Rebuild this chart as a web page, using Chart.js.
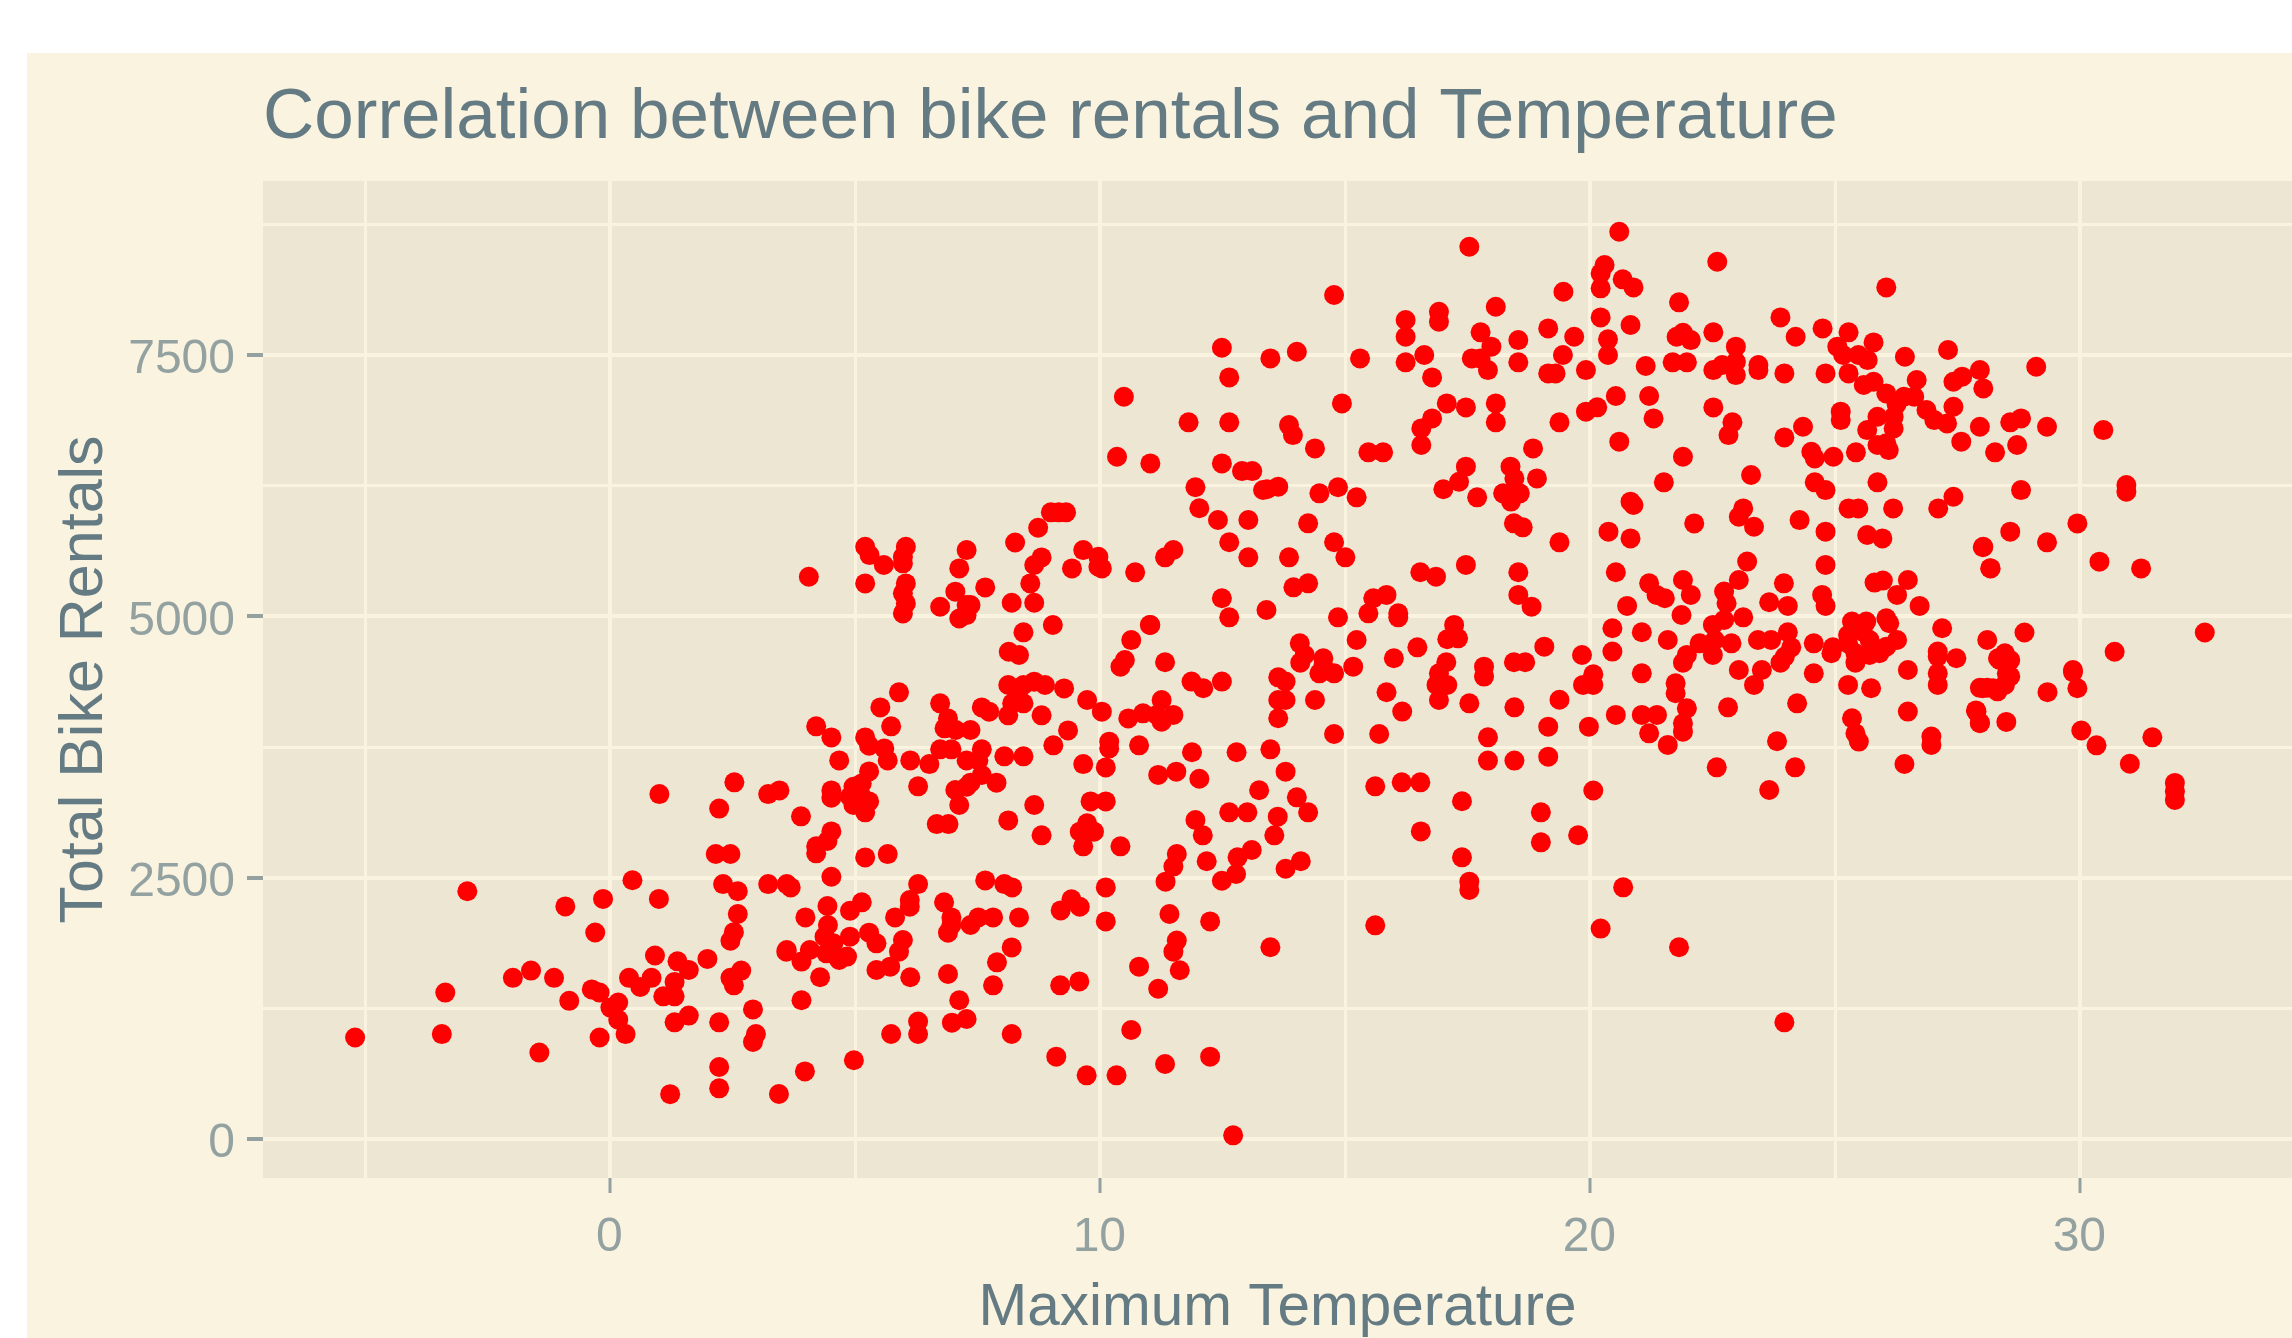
<!DOCTYPE html>
<html>
<head>
<meta charset="utf-8">
<title>Bike rentals</title>
<script src="https://cdn.jsdelivr.net/npm/chart.js@4"></script>
<style>
  html, body { margin: 0; background: #fff; overflow: hidden; }
  #wrap { position: absolute; left: 27px; top: 53px; width: 2265px; height: 1285px; background: #f9f3e0; }
</style>
</head>
<body>
<div id="wrap"><canvas id="chart" width="2265" height="1285"></canvas></div>
<script>
const maxTemp = [
  -2.92, 0.45, -0.92, -0.15, 0.99, -0.31, 2.15, 2.45, 2.22, 2.30,
  2.60, 2.60, 2.52, 2.45, 0.91, 1.37, 1.98, 1.60, 0.84, 0.38,
  0.61, 1.31, -1.99, -1.62, -1.15, -3.37, -0.84, -0.38, -0.22, 0.16,
  0.00, 0.16, 0.31, -0.22, -3.44, -5.21, -1.45, 1.08, 1.31, 1.31,
  1.60, 2.22, 2.91, 2.97, 2.91, 2.22, 2.22, 1.22, 3.44, 2.67,
  2.45, 2.52, 3.59, 3.90, 3.90, 1.00, 2.53, 3.22, 3.45, 5.89,
  5.51, 5.73, 4.20, 4.51, 5.20, 5.28, 5.59, 4.67, 5.66, 6.12,
  6.51, 5.28, 4.51, 4.51, 4.96, 5.13, 4.89, 5.13, 5.28, 4.96,
  5.20, 6.28, 3.89, 4.51, 4.20, 4.43, 4.20, 5.20, 5.66, 4.51,
  3.22, 3.60, 3.68, 6.73, 6.89, 6.82, 7.05, 7.35, 6.73, 6.96,
  7.58, 7.27, 7.51, 7.58, 7.35, 7.88, 7.04, 7.27, 7.12, 6.66,
  6.90, 8.04, 8.43, 8.12, 8.65, 8.80, 9.04, 9.34, 8.80, 8.12,
  7.73, 7.58, 8.12, 8.31, 8.43, 8.65, 8.87, 9.26, 8.20, 8.43,
  9.73, 10.03, 10.57, 10.87, 10.41, 10.50, 9.65, 10.11, 10.18, 10.18,
  10.79, 9.80, 10.11, 9.73, 9.58, 9.87, 9.65, 10.41, 7.65, 8.04,
  8.20, 10.11, 6.28, 6.11, 6.11, 5.13, 4.89, 4.43, 3.98, 5.81,
  6.81, 6.96, 6.96, 6.89, 7.35, 7.51, 7.81, 8.34, 9.41, 9.19,
  9.58, 10.11, 8.19, 4.44, 4.37, 4.89, 5.28, 5.43, 5.97, 3.60,
  4.07, 4.55, 4.28, 4.67, 4.83, 4.41, 5.43, 5.71, 5.89,
  6.12, 6.89, 7.89, 7.81, 9.18, 9.57, 11.18, 10.79, 11.62, 11.49,
  11.56, 11.41, 12.24, 13.47, 15.61, 7.12, 7.27, 6.97, 6.28, 6.28,
  5.73, 8.19, 10.63, 4.97, 9.10, 11.32, 12.24, 9.72, 10.33, 3.97,
  12.71, 15.61, 16.15, 16.53, 17.38, 16.54, 17.38, 17.53, 17.53, 18.99,
  18.99, 13.24, 14.01, 12.63, 13.00, 13.62, 14.24, 11.94, 12.09, 13.55,
  13.09, 12.80, 12.17, 11.56, 11.49, 11.33, 12.77, 12.48, 14.09, 13.78,
  4.05, 5.20, 5.29, 5.58, 5.97, 6.03, 5.97, 5.20, 6.03, 5.97,
  6.03, 5.97, 7.27, 7.12, 7.04, 7.65, 6.73, 7.27, 7.35, 7.12,
  7.27, 8.26, 8.73, 9.15, 9.30, 8.99, 8.80, 8.65, 8.57, 8.19,
  8.65, 9.03, 8.43, 8.13, 8.34, 9.65, 9.96, 9.96, 10.03, 9.42,
  10.71, 11.02, 10.63, 10.34, 11.02, 10.48, 11.80, 12.48, 12.63, 13.47,
  14.01, 14.77, 15.30, 16.23, 16.23, 16.23, 16.61, 16.77, 16.91, 16.91,
  17.53, 18.07, 17.76, 17.98, 18.53, 18.53, 17.58, 17.76, 17.91, 19.14,
  19.14, 14.93, 17.07, 17.46, 18.07, 18.07, 16.77, 16.55, 16.55, 12.63,
  13.85, 13.93, 14.38, 15.47, 15.77, 18.83, 12.48, 12.89, 13.10, 17.46,
  17.32, 18.37, 18.45, 18.91, 11.94, 13.40, 13.63, 13.32, 14.47, 14.85,
  15.23, 17.00, 17.69, 18.22, 18.56, 18.38, 12.02, 12.40, 13.02, 14.24,
  18.44, 18.62, 12.63, 14.77, 15.00, 13.02, 13.85, 11.49, 11.32, 16.53,
  16.85, 17.46, 18.53, 13.94, 14.24, 12.48, 12.63, 13.39, 14.85, 15.57,
  15.84, 15.47, 16.08, 16.08, 18.53, 18.80, 11.01, 17.22, 17.30, 17.08,
  15.23, 14.07, 14.17, 14.08, 19.06, 16.47, 11.32, 15.99, 14.55, 14.55,
  14.47, 14.77, 15.16, 17.06, 16.91, 17.83, 17.83, 18.44, 18.67, 11.86,
  12.10, 12.48, 13.63, 13.78, 13.63, 13.78, 11.25, 14.38, 15.84, 16.86,
  17.08, 16.91, 17.53, 16.16, 18.45, 19.14, 13.63, 11.25, 11.49, 11.15,
  14.77, 15.69, 17.91, 13.47, 12.78, 11.87, 17.91, 18.45, 19.14, 13.78,
  12.02, 11.18, 11.55, 20.59, 20.29, 20.21, 20.21, 20.66, 20.88, 19.45,
  22.59, 21.81, 20.21, 20.82, 19.67, 20.36, 19.44, 20.36, 19.29, 19.91,
  21.89, 21.76, 22.05, 22.51, 22.97, 23.88, 24.19, 24.74, 25.27, 25.04,
  25.78, 26.04, 21.13, 21.68, 21.97, 22.51, 22.69, 22.97, 22.97, 23.43,
  23.43, 23.96, 24.80, 25.27, 25.16, 25.47, 25.66, 26.42, 27.30, 29.10,
  27.95, 26.66, 27.41, 27.59, 28.02, 25.58, 25.78, 26.04, 26.40, 26.61,
  26.25, 20.52, 21.20, 20.14, 19.91, 22.51, 19.37, 21.29, 22.90, 22.82,
  24.34, 23.96, 25.11, 25.11, 25.86, 26.19, 25.65, 26.19, 26.86, 27.02,
  27.28, 27.41, 27.95, 28.57, 28.79, 29.32, 30.47, 20.59, 21.89, 24.51,
  24.58, 24.96, 25.42, 25.86, 26.09, 26.04, 27.57, 28.26, 28.71, 21.50,
  23.28, 24.58, 24.80, 25.86, 28.79, 30.94, 30.94, 20.82, 20.88, 23.12,
  25.27, 25.47, 26.18, 27.10, 27.41, 23.03, 23.34, 24.27, 22.12, 19.37,
  20.37, 20.82, 24.80, 25.65, 25.96, 28.57, 29.94, 29.32, 28.02, 30.39,
  31.24, 28.17, 19.83, 19.37, 19.97, 20.06, 19.85, 20.06, 20.06, 19.75,
  20.67, 20.21, 21.81, 23.96, 23.20, 24.80, 20.52, 21.20, 21.89, 23.03,
  23.95, 21.35, 21.52, 22.05, 22.73, 23.65, 24.03, 24.73, 24.80, 20.75,
  21.86, 22.78, 22.73, 23.12, 20.45, 21.05, 21.58, 22.50, 22.54, 22.23,
  22.88, 22.50, 21.97, 21.89, 20.45, 23.42, 23.69, 24.03, 24.10, 23.97,
  23.88, 24.56, 24.95, 24.92, 24.56, 21.05, 23.03, 23.50, 23.34, 21.74,
  21.74, 21.97, 21.89, 21.89, 22.81, 20.52, 21.05, 21.36, 21.20, 21.58,
  24.22, 23.81, 22.58, 24.18, 23.65, 25.34, 25.63, 26.04, 26.10, 25.26,
  25.56, 25.26, 25.70, 26.26, 26.04, 25.70, 25.41, 25.41, 25.90, 25.26,
  25.73, 26.48, 26.48, 25.34, 25.41, 25.48, 26.41, 26.96, 26.96, 27.18,
  27.09, 27.09, 27.47, 27.09, 27.09, 28.10, 28.32, 28.01, 28.22, 27.88,
  27.95, 28.01, 28.16, 25.80, 25.97, 26.48, 26.26, 26.72, 28.86, 28.46,
  28.57, 30.70, 32.54, 29.85, 28.50, 28.36, 29.94, 29.85, 29.33, 28.57,
  28.46, 28.31, 28.10, 27.95, 28.49, 27.95, 27.87, 30.02, 30.33, 31.47,
  31.01, 31.93, 31.93, 31.93
];
const totalRentals = [
  2370, 2475, 2225, 2297, 2297, 1976, 2727, 2727, 3161, 2439,
  2370, 2153, 1979, 1897, 1756, 1700, 1723, 1618, 1542, 1542,
  1454, 1503, 1542, 1611, 1542, 1401, 1322, 1431, 1401, 1306,
  1257, 1142, 1004, 971, 1004, 971, 827, 1365, 1365, 1116,
  1181, 1116, 1240, 1004, 929, 689, 485, 429, 431, 1611,
  1542, 1470, 1792, 1697, 1327, 3300, 3412, 3300, 3335, 4273,
  4129, 3948, 3948, 3842, 3842, 3763, 3737, 3622, 3622, 3622,
  3587, 3517, 3335, 3265, 3370, 3402, 3275, 3275, 3230, 3195,
  3125, 3374, 3087, 2943, 2800, 2851, 2733, 2694, 2726, 2509,
  2439, 2439, 2407, 4168, 4024, 3929, 3913, 3913, 3728, 3728,
  3728, 3622, 3622, 3482, 3409, 3409, 3339, 3370, 3195, 3013,
  3013, 3661, 3661, 3048, 3195, 2905, 3766, 3909, 4053, 4053,
  4088, 4129, 4343, 4263, 4343, 4375, 4343, 4311, 4168, 4168,
  4200, 4088, 4024, 4072, 4519, 4582, 3587, 3555, 3801, 3737,
  3766, 3230, 3230, 3020, 2940, 2940, 2800, 2800, 2474, 2439,
  2407, 2407, 2439, 2286, 2222, 2264, 2184, 2229, 2120, 2120,
  2264, 2120, 2047, 1974, 2047, 2120, 2120, 2120, 2293, 2187,
  2222, 2082, 1833, 2047, 1936, 1936, 1974, 1872, 1904, 1808,
  1808, 1872, 1547, 1713, 1745, 1776, 1617, 1649, 1792,
  1547, 1579, 1690, 1470, 1470, 1508, 1438, 1649, 1614, 1792,
  1898, 2153, 2082, 1834, 2044, 1327, 1148, 1113, 1123, 1005,
  1005, 1005, 1043, 753, 788, 718, 788, 609, 609, 647,
  35, 3374, 3412, 3412, 3231, 2943, 2695, 2462, 2382, 3125,
  2838, 3336, 3269, 3125, 3125, 3084, 3125, 3052, 2905, 2905,
  2765, 2695, 2657, 2727, 2606, 2462, 2535, 2471, 2657, 2586,
  5379, 5666, 5586, 5491, 5507, 5666, 5570, 5315, 5315, 5220,
  5124, 5028, 5634, 5459, 5236, 5277, 5092, 5108, 5108, 4980,
  5012, 5707, 5848, 5995, 5995, 5995, 5564, 5491, 5315, 5130,
  5130, 4917, 4847, 4661, 4630, 5634, 5570, 5475, 5459, 5459,
  5421, 4917, 4773, 6527, 6463, 7101, 6856, 7570, 7286, 7468,
  7532, 8074, 7468, 7835, 7675, 7430, 7500, 7286, 7914, 7819,
  8536, 7962, 7717, 7580, 7643, 7430, 7468, 7468, 7356, 7755,
  7324, 7037, 7037, 6999, 7037, 6856, 6894, 6798, 6639, 6856,
  6830, 6734, 6607, 6569, 6569, 6607, 6463, 6390, 6390, 6432,
  6288, 6432, 6320, 6320, 6235, 6216, 6241, 6209, 6177, 6235,
  6139, 6216, 6139, 6177, 6177, 6098, 6034, 5922, 5922, 5890,
  5890, 5852, 5709, 5709, 5565, 5565, 5565, 5635, 5565, 5422,
  5380, 5492, 5422, 5278, 5316, 5173, 4991, 5061, 4991, 5173,
  5205, 5029, 5029, 4991, 5205, 5093, 4918, 4918, 4790, 4781,
  4774, 4742, 4631, 4557, 4710, 4704, 4561, 4599, 4599, 4519,
  4455, 4455, 4519, 4561, 4455, 4519, 4424, 4561, 4561, 4376,
  4312, 4376, 4417, 4376, 4200, 4200, 4200, 4200, 4274, 4344,
  4344, 4200, 4168, 4089, 4130, 3945, 4025, 3993, 4057, 4057,
  3875, 3875, 3843, 3728, 3700, 3700, 3620, 3620, 3658, 3514,
  3447, 3483, 3514, 8680, 8361, 8281, 8138, 8224, 8147, 8106,
  8393, 8004, 7860, 7787, 7675, 7650, 7500, 7500, 7324, 7356,
  7713, 7675, 7643, 7717, 7580, 7860, 7675, 7755, 7717, 7580,
  7621, 8147, 7395, 7430, 7430, 7356, 7404, 7308, 7436, 7404,
  7356, 7324, 7324, 7324, 7500, 7500, 7452, 7484, 7548, 7388,
  7356, 7261, 7245, 7293, 7181, 7213, 7245, 7133, 7101, 7101,
  7031, 7108, 7108, 7000, 6958, 6999, 6856, 6894, 6856, 6734,
  6814, 6712, 6958, 6878, 6910, 6910, 6782, 6798, 6974, 6878,
  6846, 7005, 6814, 6856, 6894, 6814, 6782, 6671, 6527, 6575,
  6511, 6527, 6569, 6639, 6591, 6655, 6671, 6569, 6639, 6282,
  6352, 6282, 6208, 6282, 6208, 6256, 6192, 6097, 6065, 6033,
  6033, 6033, 6033, 6033, 6144, 5953, 5857, 5921, 5889, 5708,
  5810, 5746, 5810, 5778, 5746, 5810, 5889, 5708, 5666, 5523,
  5459, 5459, 4630, 4202, 3945, 4344, 4344, 4446, 3334, 2906,
  2408, 2013, 1834, 1116, 5524, 5492, 5422, 5316, 5348, 5348,
  5316, 5205, 5173, 5205, 5237, 5135, 5100, 5205, 5100, 5100,
  5013, 5125, 4966, 4991, 4886, 4848, 4774, 4918, 4774, 4742,
  4742, 4631, 4631, 4557, 4663, 4774, 4774, 4848, 4704, 4615,
  4557, 4742, 4704, 4647, 4455, 4455, 4487, 4487, 4344, 4360,
  4264, 4120, 3977, 3897, 4130, 4057, 4057, 4057, 3881, 3770,
  4168, 3805, 3556, 3556, 3339, 4950, 4950, 4981, 4934, 4822,
  4854, 4742, 4774, 4774, 4710, 4631, 4557, 4647, 4647, 4344,
  4312, 4487, 4089, 4025, 3881, 3802, 3588, 3850, 3770, 4886,
  4663, 4615, 4599, 4455, 4344, 4774, 4599, 4312, 4312, 4089,
  3983, 5661, 5460, 5323, 5342, 5348, 5205, 5100, 4846, 4646,
  4582, 4661, 4846, 4486, 4454, 4582, 4312, 4467, 4275, 4426,
  4344, 4283, 4316, 4316, 3990, 3978, 4100, 3908, 3766, 3843,
  3590, 3407, 3325, 3244
];

const xGridValues = [-5, 0, 5, 10, 15, 20, 25, 30];
const xTickLabels = [0, 10, 20, 30];
const yGridValues = [0, 1250, 2500, 3750, 5000, 6250, 7500, 8750];
const yTickLabels = [0, 2500, 5000, 7500];

const points = maxTemp.map((t, i) => ({ x: t, y: totalRentals[i] }));
const font = 'Liberation Sans, Arial, sans-serif';

// panel fill behind the grid
const panelFill = {
  id: 'panelFill',
  beforeDraw(chart) {
    const { ctx, chartArea: a } = chart;
    ctx.save();
    ctx.fillStyle = '#ece6d3';
    ctx.fillRect(a.left, a.top, a.right - a.left, a.bottom - a.top);
    ctx.restore();
  }
};

new Chart(document.getElementById('chart').getContext('2d'), {
  type: 'scatter',
  data: {
    datasets: [{
      data: points,
      backgroundColor: '#ff0000',
      borderWidth: 0,
      pointRadius: 10
    }]
  },
  plugins: [panelFill],
  options: {
    responsive: false,
    animation: false,
    layout: { padding: 0, autoPadding: false },
    plugins: {
      legend: { display: false },
      tooltip: { enabled: false },
      title: {
        display: true,
        text: 'Correlation between bike rentals and Temperature',
        align: 'start',
        fullSize: false,
        color: '#657b83',
        font: { family: font, size: 71, weight: 'normal', lineHeight: 1.2 },
        padding: { top: 22.4, bottom: 20.4 }
      }
    },
    scales: {
      x: {
        type: 'linear',
        min: -7.09,
        max: 34.32,
        afterFit(scale) { scale.height = 160; },
        afterBuildTicks(scale) { scale.ticks = xGridValues.map(v => ({ value: v })); },
        border: { display: false },
        grid: {
          color: '#f9f3e0',
          lineWidth: c => (xTickLabels.includes(c.tick.value) ? 4 : 3),
          tickColor: c => (xTickLabels.includes(c.tick.value) ? '#93a1a1' : 'rgba(0,0,0,0)'),
          tickLength: 15,
          tickWidth: 3
        },
        ticks: {
          color: '#93a1a1',
          font: { family: font, size: 48 },
          padding: 16,
          labelOffset: -1,
          maxRotation: 0,
          autoSkip: false,
          callback: v => (xTickLabels.includes(v) ? String(v) : '')
        },
        title: {
          display: true,
          text: 'Maximum Temperature',
          color: '#657b83',
          font: { family: font, size: 58.5, lineHeight: 1 },
          padding: { top: 0, bottom: 0 }
        }
      },
      y: {
        type: 'linear',
        min: -373,
        max: 9165,
        afterFit(scale) { scale.width = 236; },
        afterBuildTicks(scale) { scale.ticks = yGridValues.map(v => ({ value: v })); },
        border: { display: false },
        grid: {
          color: '#f9f3e0',
          lineWidth: c => (yTickLabels.includes(c.tick.value) ? 4 : 3),
          tickColor: c => (yTickLabels.includes(c.tick.value) ? '#93a1a1' : 'rgba(0,0,0,0)'),
          tickLength: 16,
          tickWidth: 4
        },
        ticks: {
          color: '#93a1a1',
          font: { family: font, size: 48 },
          padding: 12,
          labelOffset: 5,
          autoSkip: false,
          callback: v => (yTickLabels.includes(v) ? String(v) : '')
        },
        title: {
          display: true,
          text: 'Total Bike Rentals',
          color: '#657b83',
          font: { family: font, size: 61, lineHeight: 1 },
          padding: { top: 28, bottom: 0 }
        }
      }
    }
  }
});
</script>
</body>
</html>
